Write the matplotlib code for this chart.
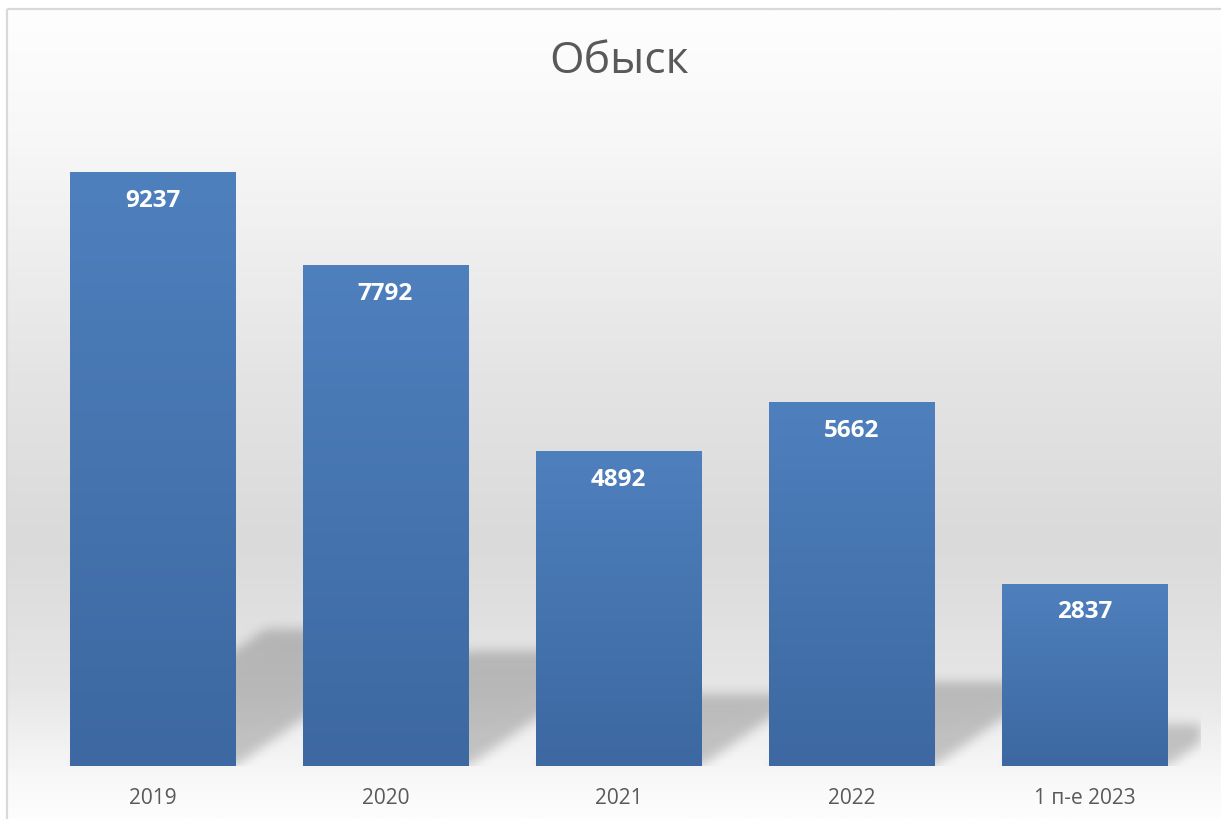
import matplotlib
matplotlib.use("Agg")
import matplotlib.pyplot as plt
import numpy as np
from matplotlib.colors import LinearSegmentedColormap
from matplotlib.patches import Rectangle

plt.rcParams['font.family'] = ['Open Sans', 'DejaVu Sans']

# Data
categories = ['2019', '2020', '2021', '2022', '1 п-е 2023']
values = [9237, 7792, 4892, 5662, 2837]
title = 'Обыск'

W, H, DPI = 1221, 820, 100
fig = plt.figure(figsize=(W / DPI, H / DPI), dpi=DPI)
fig.patch.set_facecolor('white')

# chart area background: vertical gradient white -> gray -> white
bg = fig.add_axes([0, 0, 1, 1], zorder=-2)
bg.set_xlim(0, W)
bg.set_ylim(H, 0)
bg.axis('off')
bg_cmap = LinearSegmentedColormap.from_list('bg', [
    (0.00, '#fefefe'), (0.15, '#f8f8f8'), (0.45, '#e4e4e4'),
    (0.66, '#dadada'), (0.84, '#e6e6e6'), (0.95, '#f8f8f8'), (1.00, '#fdfdfd')])
grad = np.linspace(0, 1, 400).reshape(-1, 1)
bg.imshow(grad, cmap=bg_cmap, extent=[7, W + 5, H, 10], aspect='auto', origin='upper')
bg.add_patch(Rectangle((7, 10), W, H, fill=False, edgecolor='#d9d9d9', linewidth=1.6))

# plot area
left, right, bottom, top = 36, 1201, 767, 124
ax = fig.add_axes([left / W, (H - bottom) / H, (right - left) / W, (bottom - top) / H])
ax.set_facecolor('none')
ymax = 10000
x = np.arange(len(categories))
bar_w = 0.71

bars = ax.bar(x, values, width=bar_w, color='#4a78b4', zorder=3)

# vertical gradient inside every bar
bar_cmap = LinearSegmentedColormap.from_list('bar', ['#3d68a1', '#4574ae', '#4f80be'])
for rect in bars:
    bx, bw, bh = rect.get_x(), rect.get_width(), rect.get_height()
    im = ax.imshow(np.linspace(0, 1, 256).reshape(-1, 1), cmap=bar_cmap, origin='lower',
                   extent=[bx, bx + bw, 0, bh], aspect='auto', zorder=4)
    im.set_clip_path(rect)

ax.set_xlim(-0.5, len(categories) - 0.5)
ax.set_ylim(0, ymax)

# perspective shadows cast up and to the right of each bar
pw, ph = right - left, bottom - top
sx = pw / (len(categories))   # px per category
sy = ph / ymax                # px per unit
px = np.arange(pw) + 0.5
py = np.arange(ph) + 0.5
PX, PY = np.meshgrid(px, py)
mask = np.zeros((ph, pw))
for i, v in enumerate(values):
    hs = 0.23 * v * sy
    x0 = (i - bar_w / 2 + 0.5) * sx
    x1 = (i + bar_w / 2 + 0.5) * sx
    shift = PY / 0.7
    inside = (PY <= hs) & (PX >= x0 + shift) & (PX <= x1 + shift)
    mask[inside] = 1.0

sigma = 5.5
k = np.arange(-16, 17)
kern = np.exp(-k ** 2 / (2 * sigma ** 2))
kern /= kern.sum()
pad = np.pad(mask, 16, mode='constant')
pad = np.apply_along_axis(lambda r: np.convolve(r, kern, mode='same'), 1, pad)
pad = np.apply_along_axis(lambda c: np.convolve(c, kern, mode='same'), 0, pad)
blur = pad[16:-16, 16:-16]
shadow = np.zeros((ph, pw, 4))
shadow[..., 3] = blur * 0.2
ax.imshow(shadow, origin='lower', extent=[-0.5, len(categories) - 0.5, 0, ymax],
          aspect='auto', zorder=2, interpolation='nearest')
ax.set_xlim(-0.5, len(categories) - 0.5)
ax.set_ylim(0, ymax)

# value labels
for i, v in enumerate(values):
    ax.annotate(str(v), xy=(i, v), xytext=(0, -20), textcoords='offset points',
                ha='center', va='center', color='white', fontsize=17.5,
                fontweight='bold', zorder=6)

ax.set_xticks(x)
ax.set_xticklabels(categories, fontsize=15, color='#595959')
ax.tick_params(axis='x', length=0, pad=15)
ax.set_yticks([])
for s in ax.spines.values():
    s.set_visible(False)

fig.text((left + right) / 2 / W, 1 - 62 / H, title, ha='center', va='center',
         fontsize=32, color='#595959')

fig.savefig('out.png', dpi=DPI)
